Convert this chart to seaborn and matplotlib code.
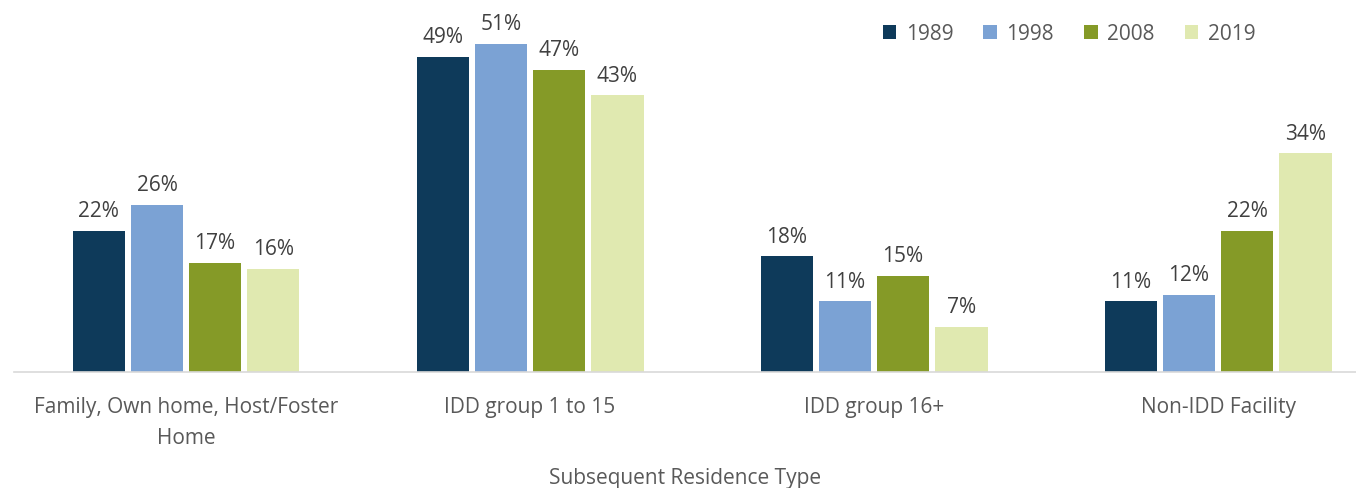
import matplotlib
matplotlib.use("Agg")
import matplotlib.pyplot as plt
import seaborn as sns
import pandas as pd

categories = ["Family, Own home, Host/Foster\nHome", "IDD group 1 to 15",
              "IDD group 16+", "Non-IDD Facility"]
years = ["1989", "1998", "2008", "2019"]
values_1989 = [22, 49, 18, 11]
values_1998 = [26, 51, 11, 12]
values_2008 = [17, 47, 15, 22]
values_2019 = [16, 43, 7, 34]
colors = ["#0e3a5a", "#7ba2d4", "#859a27", "#e0e9b0"]

series = [values_1989, values_1998, values_2008, values_2019]
df = pd.DataFrame(
    [(c, y, v) for y, vals in zip(years, series) for c, v in zip(categories, vals)],
    columns=["category", "year", "value"],
)

sns.set_theme(style="white")
plt.rcParams["font.family"] = ["Open Sans", "DejaVu Sans"]
text_color = "#595959"

fig = plt.figure(figsize=(13.56, 4.89), dpi=100)
ax = fig.add_axes([14 / 1356, 1 - 373 / 489, 1 - 14 / 1356, 373 / 489])

sns.barplot(data=df, x="category", y="value", hue="year", hue_order=years,
            palette=colors, width=0.675, gap=0.09, ax=ax, saturation=1,
            edgecolor="none")

for cont in ax.containers:
    ax.bar_label(cont, labels=[f"{v:g}%" for v in cont.datavalues],
                 padding=7, fontsize=15, color="#404040")

ax.set_xlim(-0.5, 3.401)
ax.set_ylim(0, 58)
ax.set_yticks([])
ax.set_ylabel("")
for s in ["top", "right", "left"]:
    ax.spines[s].set_visible(False)
ax.spines["bottom"].set_color("#d9d9d9")
ax.spines["bottom"].set_linewidth(1.2)
ax.tick_params(axis="x", length=0, pad=17, labelsize=15, labelcolor=text_color)
for lbl in ax.get_xticklabels():
    lbl.set_linespacing(1.65)
ax.set_xlabel("Subsequent Residence Type", fontsize=15, color=text_color, labelpad=14)

leg = ax.legend(ncol=4, frameon=False, loc="center",
                bbox_to_anchor=((1069 - 14) / 1342, 1 - 35 / 373),
                fontsize=15, handlelength=0.65, handleheight=0.65, handletextpad=0.45,
                columnspacing=1.45, labelcolor=text_color)

fig.savefig("out.png", dpi=100)
